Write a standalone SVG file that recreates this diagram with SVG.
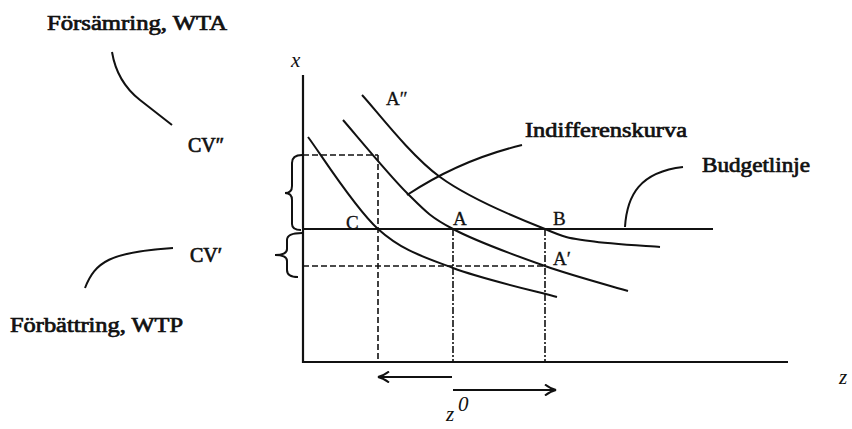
<svg xmlns="http://www.w3.org/2000/svg" width="852" height="429" viewBox="0 0 852 429">
<defs>
<style>
.t{font-family:"Liberation Serif","Times New Roman",serif;font-size:20px;fill:#111;stroke:#111;stroke-width:0.7}
.s{font-family:"Liberation Serif","Times New Roman",serif;font-size:19px;fill:#111;stroke:#111;stroke-width:0.3}
.i{font-family:"Liberation Serif","Times New Roman",serif;font-style:italic;font-size:21px;fill:#111}
.ln{fill:none;stroke:#111;stroke-width:2}
.ax{fill:none;stroke:#111;stroke-width:2.2}
.dash{fill:none;stroke:#111;stroke-width:1.6;stroke-dasharray:6 3}
.dd{fill:none;stroke:#111;stroke-width:1.6;stroke-dasharray:7 2 2 2}
.ld{fill:none;stroke:#111;stroke-width:2}
</style>
<marker id="ah" viewBox="-12 -6 14 12" markerWidth="14" markerHeight="12" refX="0" refY="0" orient="auto" markerUnits="userSpaceOnUse">
<path d="M-11,-5.5 Q-5,-1 0,0 Q-5,1 -11,5.5" fill="none" stroke="#111" stroke-width="2"/>
</marker>
</defs>
<rect width="852" height="429" fill="#fff"/>

<g id="axes">
<line class="ax" x1="303" y1="75" x2="303" y2="363"/>
<line class="ax" x1="302" y1="362" x2="788" y2="362"/>
<text class="i" x="291" y="67" font-size="23">x</text>
<text class="i" x="839" y="384">z</text>
</g>

<g id="guides">
<line class="dash" x1="303" y1="155" x2="378" y2="155"/>
<line class="dash" x1="378" y1="155" x2="378" y2="362"/>
<line class="dash" x1="303" y1="266" x2="545" y2="266"/>
<line class="dd" x1="453" y1="229" x2="453" y2="362"/>
<line class="dd" x1="545" y1="229" x2="545" y2="362"/>
</g>

<g id="budget-line">
<line class="ln" x1="303" y1="229" x2="713" y2="229"/>
</g>

<g id="curves">
<path id="curve-low" class="ln" d="M308,137 C319.7,152.3 353.8,207.2 378,229 C402.2,250.8 423.2,256.7 453,268 C482.8,279.3 539.7,292.2 557,297"/>
<path id="curve-mid" class="ln" d="M343,120 C353.7,132.2 388.7,174.8 407,193 C425.3,211.2 430,216.8 453,229 C476,241.2 515.8,255.7 545,266 C574.2,276.3 614.2,286.8 628,291"/>
<path id="curve-high" class="ln" d="M362,95 C375,108.7 409.5,154.7 440,177 C470.5,199.3 518.3,218.5 545,229 C570,239.7 570.8,238 590,241 C609.2,244 648.3,246 660,247"/>
</g>

<g id="braces">
<path class="ln" d="M302,155 Q292,155 292,163 L292,186 Q292,193 285,193 Q292,193 292,200 L292,224 Q292,230 301,230"/>
<path class="ln" d="M302,233 Q287,233 287,240 L287,249 Q287,255 275,255 Q287,255 287,261 L287,270 Q287,277 298,277"/>
</g>

<g id="connectors">
<path class="ld" d="M407,195 Q460,160 522,145"/>
<path class="ld" d="M625,227 C627,195 640,172 683,167"/>
<path class="ld" d="M112,52 Q117,82 140,100 L172,125"/>
<path class="ld" d="M85,288 C95,262 110,252 173,248"/>
<line class="ld" x1="452" y1="377" x2="378" y2="377" marker-end="url(#ah)"/>
<line class="ld" x1="453" y1="390" x2="556" y2="390" marker-end="url(#ah)"/>
</g>

<g id="label-wta"><text class="t" x="47" y="30" textLength="180" lengthAdjust="spacingAndGlyphs">Försämring, WTA</text></g>
<g id="label-wtp"><text class="t" x="10" y="332" textLength="173" lengthAdjust="spacingAndGlyphs">Förbättring, WTP</text></g>
<g id="label-cv2"><text class="t" x="188" y="152" font-size="21">CV″</text></g>
<g id="label-cv1"><text class="t" x="190" y="262" font-size="21">CV′</text></g>
<g id="label-indiff"><text class="t" x="525" y="137" textLength="162" lengthAdjust="spacingAndGlyphs">Indifferenskurva</text></g>
<g id="label-budget"><text class="t" x="702" y="172" textLength="108" lengthAdjust="spacingAndGlyphs">Budgetlinje</text></g>
<g id="point-A2"><text class="s" x="386" y="105">A″</text></g>
<g id="point-A"><text class="s" x="453" y="225">A</text></g>
<g id="point-B"><text class="s" x="553" y="225">B</text></g>
<g id="point-A1"><text class="s" x="553" y="265">A′</text></g>
<g id="point-C"><text class="s" x="346" y="229" font-size="17">C</text></g>
<g id="label-z0"><text class="i" x="446" y="421" font-size="22">z</text><text class="i" x="458" y="411" font-size="16">0</text></g>
</svg>
